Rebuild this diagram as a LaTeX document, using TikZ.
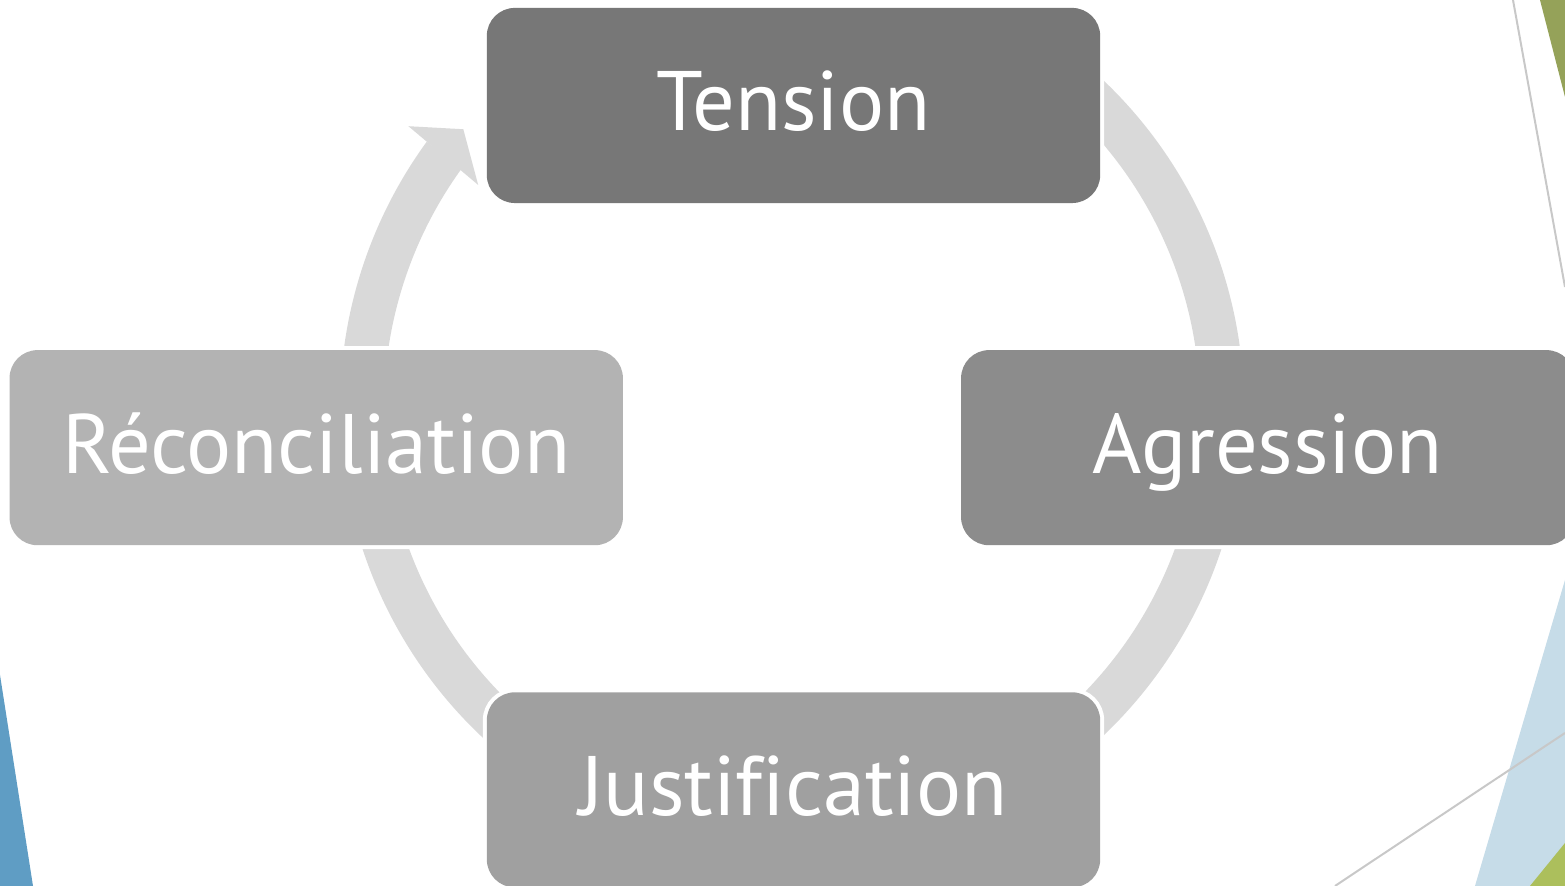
\documentclass[tikz,border=0pt]{standalone}
\usepackage{fontspec}
\setmainfont{PT Sans}[Ligatures=CommonOff]
\usetikzlibrary{positioning}

\definecolor{tensiongray}{HTML}{777777}
\definecolor{agressgray}{HTML}{8C8C8C}
\definecolor{justifgray}{HTML}{A0A0A0}
\definecolor{reconcgray}{HTML}{B3B3B3}
\definecolor{ringgray}{HTML}{D9D9D9}
\definecolor{facetblue}{RGB}{95,157,196}
\definecolor{facetpale}{RGB}{198,220,232}
\definecolor{facetgreen}{RGB}{172,191,92}
\definecolor{facetolive}{RGB}{149,162,89}
\definecolor{facetline}{RGB}{200,200,200}

\tikzset{
  stage/.style={rectangle, rounded corners=0.28cm, minimum width=6.13cm,
    minimum height=1.95cm, inner sep=0pt, outer sep=0pt, text=white,
    text height=0.51cm, text depth=0cm, font=\fontsize{24}{28}\selectfont,
    preaction={draw=white, line width=0.08cm}},
  ring/.style={draw=ringgray, line width=0.44cm},
  facet/.style={draw=facetline, line width=0.02cm}
}

\begin{document}
\begin{tikzpicture}[x=0.01cm, y=0.01cm]
  \clip (0,0) rectangle (1565,886);
  % background facets
  \fill[facetblue] (0,0) -- (33,0) -- (0,211) -- cycle;
  \fill[facetpale] (1475,0) -- (1565,0) -- (1565,306) -- cycle;
  \fill[facetgreen] (1530,0) -- (1565,0) -- (1565,43) -- cycle;
  \fill[facetolive] (1540,886) -- (1565,886) -- (1565,789) -- cycle;
  \draw[facet] (1335,0) -- (1565,153);
  \draw[facet] (1513,886) -- (1565,599);
  % cycle ring
  \coordinate (hub) at (792,478);
  \draw[ring] ([shift={(60:430)}]hub) arc[start angle=60, end angle=5, radius=430];
  \draw[ring] ([shift={(-5:430)}]hub) arc[start angle=-5, end angle=-60, radius=430];
  \draw[ring] ([shift={(-120:430)}]hub) arc[start angle=-120, end angle=-175, radius=430];
  \draw[ring] ([shift={(175:430)}]hub) arc[start angle=175, end angle=143.9, radius=430];
  \fill[ringgray] ([shift={(143.7:476)}]hub) -- ([shift={(139.7:431)}]hub)
    -- ([shift={(144.6:385)}]hub) -- cycle;
  % stages
  \node[stage, fill=tensiongray] (tension) at (793.5,780.5) {Tension};
  \node[stage, fill=reconcgray, below left=1.47cm and -1.36cm of tension] (reconc) {Réconciliation};
  \node[stage, fill=agressgray, below right=1.47cm and -1.39cm of tension] (agress) {Agression};
  \node[stage, fill=justifgray, below=4.89cm of tension] (justif) {Justification};
\end{tikzpicture}
\end{document}
